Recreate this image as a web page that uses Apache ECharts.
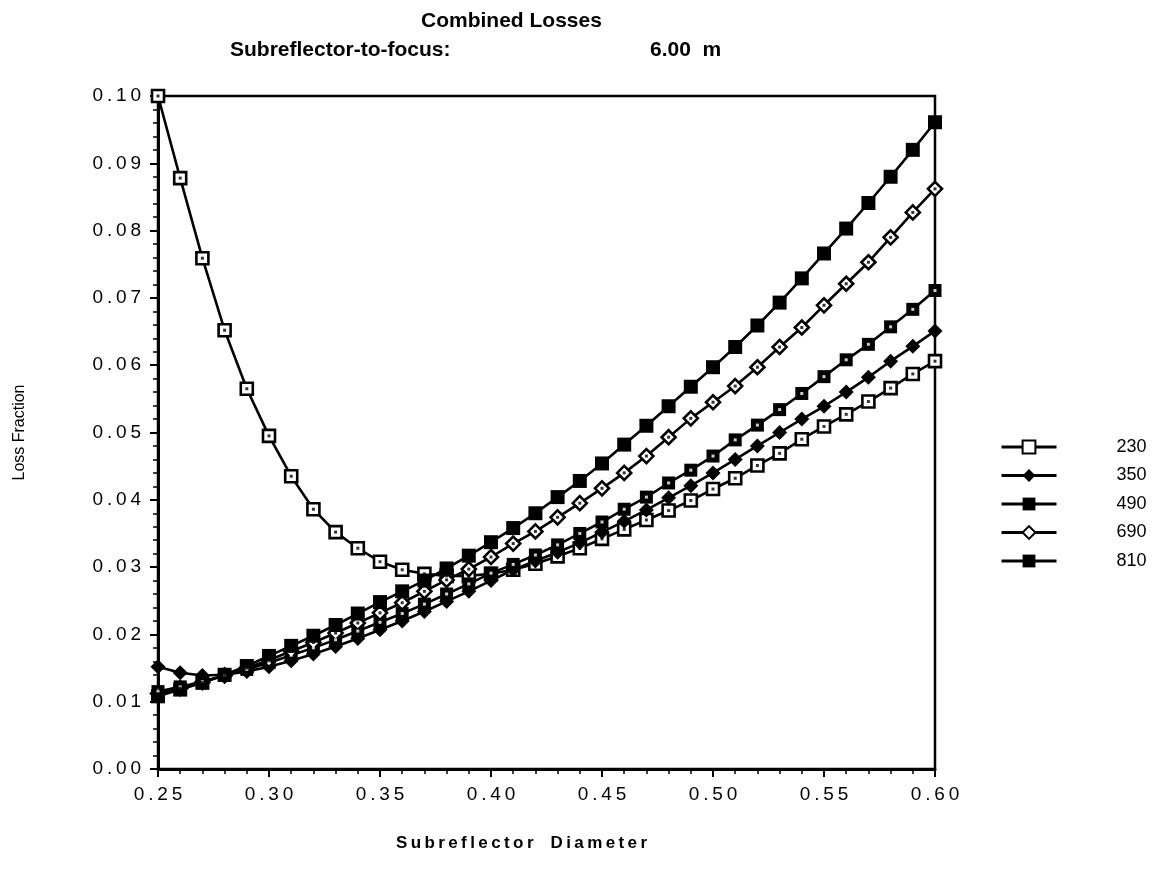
<!DOCTYPE html>
<html><head><meta charset="utf-8">
<script src="https://cdn.jsdelivr.net/npm/echarts@6/dist/echarts.min.js"></script>
<style>html,body{margin:0;padding:0;background:#fff}#c{width:1170px;height:869px}</style>
</head><body><div id="c"></div>
<script>
const diameters = [0.25,0.26,0.27,0.28,0.29,0.30,0.31,0.32,0.33,0.34,0.35,0.36,0.37,0.38,0.39,0.40,0.41,0.42,0.43,0.44,0.45,0.46,0.47,0.48,0.49,0.50,0.51,0.52,0.53,0.54,0.55,0.56,0.57,0.58,0.59,0.60];
const loss230 = [0.1000,0.0878,0.0759,0.0652,0.0565,0.0495,0.0435,0.0386,0.0352,0.0328,0.0308,0.0296,0.0290,0.0287,0.0287,0.0290,0.0296,0.0305,0.0316,0.0328,0.0342,0.0356,0.0370,0.0384,0.0399,0.0416,0.0432,0.0451,0.0469,0.0490,0.0509,0.0527,0.0546,0.0566,0.0587,0.0606];
const loss350 = [0.0152,0.0143,0.0139,0.0140,0.0145,0.0152,0.0161,0.0171,0.0182,0.0194,0.0207,0.0220,0.0234,0.0249,0.0264,0.0280,0.0296,0.0309,0.0322,0.0336,0.0352,0.0368,0.0385,0.0403,0.0421,0.0440,0.0460,0.0480,0.0500,0.0520,0.0539,0.0560,0.0582,0.0606,0.0628,0.0651];
const loss490 = [0.0115,0.0122,0.0130,0.0139,0.0148,0.0158,0.0169,0.0180,0.0192,0.0205,0.0218,0.0231,0.0245,0.0260,0.0275,0.0291,0.0304,0.0318,0.0333,0.0350,0.0367,0.0386,0.0404,0.0425,0.0444,0.0465,0.0489,0.0511,0.0534,0.0558,0.0583,0.0608,0.0631,0.0657,0.0683,0.0711];
const loss690 = [0.0112,0.0120,0.0129,0.0139,0.0150,0.0162,0.0175,0.0188,0.0202,0.0217,0.0232,0.0247,0.0264,0.0281,0.0297,0.0315,0.0335,0.0353,0.0374,0.0395,0.0417,0.0440,0.0465,0.0493,0.0521,0.0545,0.0569,0.0597,0.0627,0.0656,0.0689,0.0721,0.0753,0.0790,0.0827,0.0862];
const loss810 = [0.0108,0.0118,0.0128,0.0140,0.0153,0.0168,0.0183,0.0198,0.0214,0.0231,0.0248,0.0264,0.0280,0.0298,0.0317,0.0337,0.0358,0.0380,0.0404,0.0428,0.0454,0.0482,0.0510,0.0539,0.0568,0.0597,0.0627,0.0659,0.0693,0.0729,0.0766,0.0803,0.0841,0.0880,0.0920,0.0961];
const legendNames = ['230','350','490','690','810'];

const FONT = '"Liberation Sans", Arial, Helvetica, sans-serif';
const sp = s => s.split('').join('\u2009');
const pairs = arr => diameters.map((d, i) => [d, arr[i]]);

function lineSeries(name, arr, symbol, size, fill) {
  return {
    name: name, type: 'line', data: pairs(arr),
    symbol: symbol, symbolSize: size, showAllSymbol: true,
    lineStyle: { color: '#000', width: 2.6 },
    itemStyle: { color: fill, borderColor: '#000', borderWidth: fill === '#fff' ? 2.6 : 0 },
    emphasis: { disabled: true }, animation: false, z: 3
  };
}
function dotSeries(arr, color) {
  return {
    type: 'scatter', data: pairs(arr), symbol: 'rect', symbolSize: 3,
    itemStyle: { color: color }, silent: true, animation: false, z: 5
  };
}

const chart = echarts.init(document.getElementById('c'), null, { renderer: 'canvas' });
chart.setOption({
  backgroundColor: '#fff',
  animation: false,
  title: [
    { text: 'Combined Losses', left: 421, top: 11, padding: 0,
      textStyle: { fontFamily: FONT, fontSize: 21, fontWeight: 'bold', color: '#000' } },
    { text: 'Subreflector-to-focus:', left: 230, top: 40, padding: 0,
      textStyle: { fontFamily: FONT, fontSize: 21, fontWeight: 'bold', color: '#000' } },
    { text: '6.00  m', left: 650, top: 40, padding: 0,
      textStyle: { fontFamily: FONT, fontSize: 21, fontWeight: 'bold', color: '#000' } }
  ],
  grid: { left: 158, right: 235, top: 96, bottom: 100, show: true, borderColor: '#000', borderWidth: 2.5, backgroundColor: 'transparent' },
  legend: {
    data: legendNames, orient: 'vertical', left: 1000, top: 438, padding: 0,
    itemWidth: 55, itemHeight: 16, itemGap: 12.6 - 2.1,
    lineStyle: { width: 3, color: '#000' },
    textStyle: { fontFamily: FONT, fontSize: 18, color: '#000', padding: [0, 0, 0, 55] },
    selectedMode: false
  },
  xAxis: {
    type: 'value', min: 0.25, max: 0.60, interval: 0.05,
    name: sp('Subreflector') + '\u2003' + sp('Diameter'), nameLocation: 'middle', nameGap: 66,
    nameTextStyle: { fontFamily: FONT, fontSize: 17, fontWeight: 'bold', color: '#000', padding: [0, 50, 0, 0] },
    axisLine: { lineStyle: { color: '#000', width: 3 } },
    axisTick: { show: true, length: 8, inside: false, lineStyle: { color: '#000', width: 2 } },
    minorTick: { show: true, splitNumber: 5, length: 5, lineStyle: { color: '#000', width: 1.5 } },
    splitLine: { show: false },
    axisLabel: { margin: 16, fontFamily: FONT, fontSize: 19, color: '#000', formatter: v => sp(v.toFixed(2)) }
  },
  yAxis: {
    type: 'value', min: 0, max: 0.10, interval: 0.01,
    name: 'Loss Fraction', nameLocation: 'middle', nameGap: 130, nameRotate: 90,
    nameTextStyle: { fontFamily: FONT, fontSize: 16, color: '#000' },
    axisLine: { lineStyle: { color: '#000', width: 3 } },
    axisTick: { show: true, length: 8, inside: false, lineStyle: { color: '#000', width: 2 } },
    minorTick: { show: true, splitNumber: 5, length: 5, lineStyle: { color: '#000', width: 1.5 } },
    splitLine: { show: false },
    axisLabel: { margin: 17, fontFamily: FONT, fontSize: 19, color: '#000', formatter: v => sp(v.toFixed(2)) }
  },
  series: [
    lineSeries('230', loss230, 'rect', 12, '#fff'),
    lineSeries('350', loss350, 'diamond', 15, '#000'),
    lineSeries('490', loss490, 'rect', 13, '#000'),
    lineSeries('690', loss690, 'diamond', 14, '#fff'),
    lineSeries('810', loss810, 'rect', 14, '#000'),
    dotSeries(loss230, '#000'),
    dotSeries(loss490, '#fff'),
    dotSeries(loss690, '#000')
  ]
});
</script></body></html>
